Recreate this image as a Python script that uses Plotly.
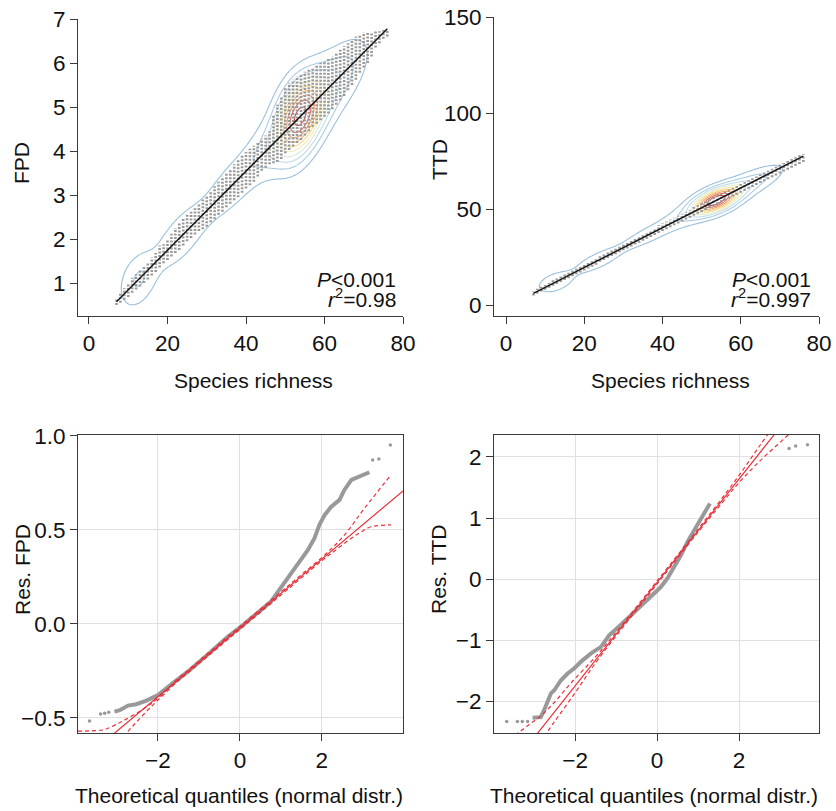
import math
import numpy as np
import plotly.graph_objects as go

W, H = 836, 811

# ---------------- data ----------------
richness = list(range(7, 77))
site_counts = [5, 8, 12, 20, 28, 36, 36, 30, 21, 14, 12, 14, 17, 20, 21, 23, 24, 24, 23, 21,
               20, 18, 17, 17, 17, 18, 20, 21, 23, 23, 23, 23, 23, 23, 24, 26, 27, 30, 34, 38,
               46, 62, 86, 120, 152, 178, 198, 198, 185, 158, 132, 106, 84, 68, 58, 52, 47, 43, 39, 35,
               30, 25, 20, 15, 11, 8, 5, 3, 2, 1]
fpd_lo = [0.50, 0.55, 0.62, 0.68, 0.78, 0.85, 0.92, 1.00, 1.08, 1.17, 1.25, 1.35, 1.45, 1.52, 1.60, 1.68,
          1.75, 1.85, 1.95, 2.02, 2.10, 2.18, 2.22, 2.28, 2.38, 2.45, 2.55, 2.62, 2.72, 2.80, 2.88, 2.95,
          3.05, 3.15, 3.22, 3.30, 3.42, 3.55, 3.62, 3.70, 3.72, 3.75, 3.82, 3.95, 4.02, 4.10, 4.18, 4.25,
          4.35, 4.45, 4.55, 4.62, 4.70, 4.78, 4.85, 4.95, 5.05, 5.15, 5.25, 5.38, 5.50, 5.62, 5.78, 5.90,
          6.00, 6.15, 6.35, 6.45, 6.55, 6.60]
fpd_hi = [0.65, 0.78, 0.88, 0.98, 1.12, 1.20, 1.30, 1.38, 1.47, 1.58, 1.68, 1.85, 1.88, 1.98, 2.12, 2.25,
          2.35, 2.48, 2.58, 2.62, 2.70, 2.80, 2.90, 2.97, 3.08, 3.20, 3.30, 3.42, 3.50, 3.58, 3.70, 3.80,
          3.92, 3.98, 4.05, 4.12, 4.20, 4.28, 4.35, 4.45, 4.80, 5.05, 5.25, 5.45, 5.55, 5.62, 5.70, 5.75,
          5.80, 5.85, 5.90, 5.95, 6.00, 6.05, 6.10, 6.15, 6.22, 6.30, 6.38, 6.45, 6.52, 6.60, 6.65, 6.70,
          6.70, 6.70, 6.72, 6.72, 6.75, 6.75]
ttd_lo = [5.0, 6.0, 7.0, 8.0, 9.0, 10.0, 11.0, 12.0, 13.0, 14.0, 15.0, 16.0, 17.0, 18.0, 19.0, 20.0,
          21.0, 22.5, 23.5, 24.5, 25.5, 26.5, 27.5, 28.5, 29.5, 30.5, 31.5, 32.5, 33.5, 34.5, 35.5, 36.5,
          37.5, 38.5, 39.5, 40.5, 41.5, 42.5, 43.5, 44.5, 45.5, 46.5, 47.5, 48.5, 49.5, 50.5, 51.5, 52.5,
          53.5, 54.5, 55.5, 56.5, 57.5, 58.5, 59.5, 60.5, 61.5, 62.5, 63.5, 64.5, 65.5, 66.5, 67.5, 68.5,
          69.5, 70.5, 71.5, 72.5, 73.5, 74.5]
ttd_hi = [7.0, 8.5, 9.5, 10.5, 11.5, 13.0, 14.0, 15.0, 16.0, 17.5, 18.5, 19.5, 20.5, 21.5, 22.5, 23.5,
          24.5, 25.5, 26.5, 27.5, 28.5, 29.5, 30.5, 31.5, 32.5, 33.5, 35.0, 36.0, 37.0, 38.0, 39.0, 40.0,
          41.5, 42.5, 43.5, 44.5, 45.5, 46.5, 47.5, 48.5, 49.5, 51.0, 52.0, 53.0, 54.0, 55.0, 56.0, 57.0,
          58.0, 59.0, 60.0, 61.0, 62.0, 63.0, 64.0, 65.0, 66.0, 67.0, 68.0, 69.0, 70.0, 71.0, 72.0, 73.0,
          74.0, 75.0, 76.0, 77.0, 78.0, 78.5]
fpd_fit = (-0.054, 0.0899)   # intercept, slope
ttd_fit = (-1.15, 1.036)

# QQ plot: residual FPD
qq1_body_q = [-3.06, -2.93, -2.73, -2.53, -2.28, -2.0, -1.59, -1.27, -0.70, -0.29, 0.03, 0.44, 0.76, 0.93,
              1.17, 1.41, 1.66, 1.82, 1.94, 2.07, 2.23, 2.43, 2.55, 2.72, 2.92, 3.16]
qq1_body_r = [-0.466, -0.459, -0.434, -0.427, -0.408, -0.378, -0.307, -0.254, -0.147, -0.067, -0.014, 0.057,
              0.119, 0.172, 0.243, 0.314, 0.394, 0.456, 0.527, 0.58, 0.624, 0.66, 0.713, 0.766, 0.784, 0.807]
qq1_tail_q = [-3.67, -3.40, -3.30, -3.20, 3.24, 3.39, 3.67]
qq1_tail_r = [-0.516, -0.479, -0.475, -0.47, 0.872, 0.878, 0.952]
qq1_line = (-0.021, 0.183)
qq1_up_q = [-3.95, -3.67, -3.34, -3.22, -2.89, -2.33, -2.0, -1.5, -1.0, 0.0, 1.0, 1.5, 2.07, 2.55, 3.04, 3.69]
qq1_up_r = [-0.57, -0.569, -0.564, -0.555, -0.52, -0.449, -0.395, -0.29, -0.197, -0.013, 0.17, 0.262,
            0.367, 0.473, 0.615, 0.793]
qq1_lo_q = [-2.85, -2.6, -2.3, -2.0, -1.5, -1.0, 0.0, 1.0, 1.5, 2.0, 2.23, 2.72, 2.96, 3.2, 3.69]
qq1_lo_r = [-0.60, -0.54, -0.47, -0.405, -0.302, -0.211, -0.029, 0.154, 0.245, 0.337, 0.375, 0.456,
            0.49, 0.517, 0.527]

# QQ plot: residual TTD
qq2_body_q = [-3.04, -2.84, -2.76, -2.68, -2.59, -2.51, -2.35, -2.19, -2.02, -1.82, -1.62, -1.37, -1.17,
              -0.89, -0.56, -0.24, 0.09, 0.25, 0.41, 0.58, 0.74, 0.90, 1.1, 1.29]
qq2_body_r = [-2.27, -2.26, -2.15, -2.01, -1.87, -1.82, -1.66, -1.55, -1.46, -1.33, -1.22, -1.11, -0.92,
              -0.75, -0.54, -0.32, -0.13, 0.01, 0.18, 0.39, 0.61, 0.80, 1.02, 1.24]
qq2_tail_q = [-3.67, -3.41, -3.29, -3.16, 3.22, 3.38, 3.67]
qq2_tail_r = [-2.33, -2.33, -2.33, -2.33, 2.14, 2.18, 2.20]
qq2_line = (-0.054, 0.847)
qq2_up_q = [-3.98, -3.49, -3.16, -2.84, -2.51, -2.10, -1.5, -1.0, 0.0, 1.0, 1.5, 2.0, 2.5, 2.9]
qq2_up_r = [-2.58, -2.55, -2.40, -2.24, -2.02, -1.70, -1.27, -0.87, -0.03, 0.82, 1.25, 1.70, 2.18, 2.56]
qq2_lo_q = [-2.76, -2.5, -2.0, -1.5, -1.0, 0.0, 1.0, 1.5, 2.0, 2.5, 3.0, 3.2, 3.5]
qq2_lo_r = [-2.58, -2.33, -1.86, -1.37, -0.93, -0.08, 0.77, 1.18, 1.58, 1.93, 2.24, 2.36, 2.5]

# ---------------- helpers ----------------
FONT = "Liberation Sans, Arial, Helvetica, sans-serif"
INK = "#111111"
AXC = "#3a3a3a"
GRAY = "#999999"
RED = "#e8303a"


def px(x):
    return x / W


def py(y):
    return 1 - y / H


def density(xs, lo, hi, n, fit, gx, gy, hx, hy):
    Z = np.zeros((len(gy), len(gx)))
    for x, a, b, c in zip(xs, lo, hi, n):
        centre = fit[0] + fit[1] * x
        s = math.sqrt(hy ** 2 + ((b - a) / 4) ** 2)
        kx = np.exp(-0.5 * ((gx - x) / hx) ** 2)
        ky = np.exp(-0.5 * ((gy - centre) / s) ** 2) / s
        Z += c * np.outer(ky, kx)
    return Z


CSCALE = [[0.0, "#8fb9d9"], [0.14, "#a6cbe2"], [0.28, "#c3dfe8"], [0.40, "#e9efc2"],
          [0.52, "#f6e08f"], [0.64, "#f5c06e"], [0.76, "#f19a5a"], [0.88, "#e2624a"], [1.0, "#c43a36"]]

fig = go.Figure()


def add_scatter_panel(xa, ya, lo, hi, fit, xr, yr, hx, hy, f0, fs):
    xs, ys = [], []
    for x, a, b in zip(richness, lo, hi):
        xs += [x, x, None]
        ys += [a, b, None]
    fig.add_trace(go.Scatter(x=xs, y=ys, mode="lines", xaxis=xa, yaxis=ya,
                             line=dict(color=GRAY, width=2.6, dash="2px,1.5px"),
                             hoverinfo="skip", showlegend=False))
    gx = np.linspace(xr[0], xr[1], 240)
    gy = np.linspace(yr[0], yr[1], 240)
    Z = density(richness, lo, hi, site_counts, fit, gx, gy, hx, hy)
    zmax = float(Z.max())
    start = zmax * f0
    size = zmax * fs
    end = zmax * 0.98
    fig.add_trace(go.Contour(x=gx, y=gy, z=Z, xaxis=xa, yaxis=ya,
                             contours=dict(coloring="lines", start=start, end=end, size=size),
                             line=dict(width=1.1, smoothing=1.0),
                             colorscale=CSCALE, zmin=start, zmax=end, showscale=False,
                             hoverinfo="skip", opacity=0.9))
    x0, x1 = min(richness), max(richness)
    fig.add_trace(go.Scatter(x=[x0, x1], y=[fit[0] + fit[1] * x0, fit[0] + fit[1] * x1],
                             mode="lines", xaxis=xa, yaxis=ya,
                             line=dict(color="#151515", width=1.5), showlegend=False,
                             hoverinfo="skip"))


def add_qq_panel(xa, ya, bq, br, tq, tr, line, uq, ur, lq, lr, xr):
    fig.add_trace(go.Scatter(x=bq, y=br, mode="lines", xaxis=xa, yaxis=ya,
                             line=dict(color=GRAY, width=4), showlegend=False, hoverinfo="skip"))
    fig.add_trace(go.Scatter(x=tq, y=tr, mode="markers", xaxis=xa, yaxis=ya,
                             marker=dict(color=GRAY, size=3.5), showlegend=False, hoverinfo="skip"))
    fig.add_trace(go.Scatter(x=[xr[0], xr[1]], y=[line[0] + line[1] * xr[0], line[0] + line[1] * xr[1]],
                             mode="lines", xaxis=xa, yaxis=ya,
                             line=dict(color=RED, width=1.2), showlegend=False, hoverinfo="skip"))
    for qx, qy in ((uq, ur), (lq, lr)):
        fig.add_trace(go.Scatter(x=qx, y=qy, mode="lines", xaxis=xa, yaxis=ya,
                                 line=dict(color=RED, width=1.2, dash="4px,3px", shape="spline"),
                                 showlegend=False, hoverinfo="skip"))


TL_X = [-2.8, 80]
TL_Y = [0.25, 7]
TR_X = [-3.07, 80]
TR_Y = [-5.7, 150]
BL_X = [-3.95, 3.98]
BL_Y = [-0.58, 1.005]
BR_X = [-3.98, 3.95]
BR_Y = [-2.52, 2.36]

add_scatter_panel("x", "y", fpd_lo, fpd_hi, fpd_fit, TL_X, TL_Y, 2.5, 0.4, 0.095, 0.095)
add_scatter_panel("x2", "y2", ttd_lo, ttd_hi, ttd_fit, TR_X, TR_Y, 2.5, 3.4, 0.085, 0.1)
add_qq_panel("x3", "y3", qq1_body_q, qq1_body_r, qq1_tail_q, qq1_tail_r, qq1_line,
             qq1_up_q, qq1_up_r, qq1_lo_q, qq1_lo_r, BL_X)
add_qq_panel("x4", "y4", qq2_body_q, qq2_body_r, qq2_tail_q, qq2_tail_r, qq2_line,
             qq2_up_q, qq2_up_r, qq2_lo_q, qq2_lo_r, BR_X)

TICKF = dict(family=FONT, size=22.5, color=INK)


def top_axis(dom, rng, tv, anchor):
    return dict(domain=dom, range=rng, tickvals=tv, showline=True, linecolor=AXC, linewidth=1,
                ticks="outside", ticklen=7, tickcolor=AXC, showgrid=False, zeroline=False,
                tickfont=TICKF, fixedrange=True, anchor=anchor, automargin=False,
                ticklabeloverflow="allow")


def bot_axis(dom, rng, tv, anchor, fmt=None):
    d = dict(domain=dom, range=rng, tickvals=tv, showline=True, mirror=True, linecolor=AXC,
             linewidth=1, ticks="outside", ticklen=7, tickcolor=AXC, showgrid=True,
             gridcolor="#e0e0e0", gridwidth=1, zeroline=False, tickfont=TICKF, fixedrange=True,
             anchor=anchor, automargin=False, ticklabeloverflow="allow")
    if fmt:
        d["tickformat"] = fmt
    return d


fig.update_layout(
    template="none",
    width=W, height=H, margin=dict(l=0, r=0, t=0, b=0, autoexpand=False),
    paper_bgcolor="white", plot_bgcolor="white", showlegend=False,
    font=dict(family=FONT, color=INK),
    xaxis=top_axis([px(78), px(403)], TL_X, [0, 20, 40, 60, 80], "y"),
    yaxis=top_axis([py(316), py(19)], TL_Y, [1, 2, 3, 4, 5, 6, 7], "x"),
    xaxis2=top_axis([px(494), px(819)], TR_X, [0, 20, 40, 60, 80], "y2"),
    yaxis2=top_axis([py(316), py(17)], TR_Y, [0, 50, 100, 150], "x2"),
    xaxis3=bot_axis([px(78), px(403)], BL_X, [-2, 0, 2], "y3"),
    yaxis3=bot_axis([py(733), py(435)], BL_Y, [-0.5, 0.0, 0.5, 1.0], "x3", ".1f"),
    xaxis4=bot_axis([px(494), px(819)], BR_X, [-2, 0, 2], "y4"),
    yaxis4=bot_axis([py(733), py(435)], BR_Y, [-2, -1, 0, 1, 2], "x4"),
)

TITLEF = dict(family=FONT, size=21, color=INK)
anns = [
    ("Species richness", 253, 380, 0),
    ("Species richness", 670, 380, 0),
    ("FPD", 22, 163, -90),
    ("TTD", 440, 160, -90),
    ("Res. FPD", 22, 570, -90),
    ("Res. TTD", 438, 570, -90),
    ("Theoretical quantiles (normal distr.)", 239, 795, 0),
    ("Theoretical quantiles (normal distr.)", 654, 795, 0),
]
for text, x, y, ang in anns:
    fig.add_annotation(text=text, x=px(x), y=py(y), xref="paper", yref="paper", showarrow=False,
                       xanchor="center", yanchor="middle", textangle=ang, font=TITLEF)

STATF = dict(family=FONT, size=21, color=INK)
for text, x, y in (("<i>P</i>&lt;0.001", 398, 279), ("<i>r</i><sup>2</sup>=0.98", 398, 298),
                   ("<i>P</i>&lt;0.001", 813, 280), ("<i>r</i><sup>2</sup>=0.997", 813, 298)):
    fig.add_annotation(text=text, x=px(x), y=py(y), xref="paper", yref="paper", showarrow=False,
                       xanchor="right", yanchor="middle", font=STATF)

fig.write_html("out.html", config={"displayModeBar": False, "staticPlot": True},
               post_script="document.body.style.margin='0';document.body.style.overflow='hidden';")
